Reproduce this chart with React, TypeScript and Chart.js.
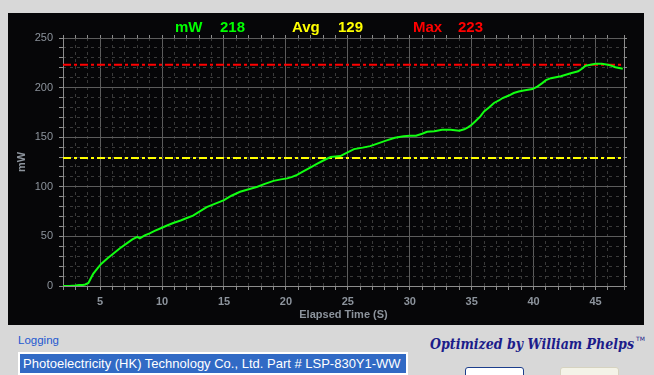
import { useEffect, useRef } from 'react';
import { Chart, registerables } from 'chart.js';

Chart.register(...registerables);

// ---- data ----
const timeS = [
  2.0, 2.5, 3.0, 3.3, 3.6, 3.8, 4.05, 4.3, 4.45, 4.8, 5.1, 5.6, 6.1, 6.6, 7.15, 7.6, 8.0, 8.2, 8.6, 9.0,
  9.4, 9.85, 10.4, 10.9, 11.5, 12.0, 12.5, 12.95, 13.6, 14.3, 15.0, 15.6, 16.3, 17.0, 17.7, 18.3, 19.0,
  19.6, 20.1, 20.5, 20.9, 21.4, 22.0, 22.5, 23.1, 23.6, 24.0, 24.4, 24.7, 25.1, 25.5, 26.2, 26.8, 27.5,
  28.2, 28.8, 29.5, 30.0, 30.5, 31.0, 31.4, 32.0, 32.6, 33.3, 34.0, 34.4, 34.7, 35.0, 35.3, 35.7, 36.0,
  36.4, 36.8, 37.2, 37.5, 38.0, 38.4, 38.8, 39.2, 39.9, 40.3, 40.7, 41.0, 41.4, 41.8, 42.2, 42.6, 43.0,
  43.6, 43.9, 44.2, 44.6, 45.0, 45.5, 46.0, 46.3, 46.6, 47.0, 47.2,
];
const powerMW = [
  0, 0, 0.5, 1, 1, 1.5, 3, 9, 12.5, 18, 22.5, 28, 33, 38, 43, 47, 49.5, 48, 51, 53,
  55.5, 58, 61, 63.5, 66, 68.5, 71, 74.5, 79.5, 83, 86.5, 91, 95, 97.5, 100, 103, 106,
  107.5, 108.5, 110, 112, 115.5, 119.5, 123, 127, 130, 130.5, 131, 133, 135.5, 138, 139.5, 141, 144,
  147, 149.5, 151, 151.5, 151.5, 153.5, 155.5, 156, 157.5, 157.5, 156.5, 158, 160, 162.5, 166, 171, 176,
  180, 184.5, 187, 189.5, 192, 194.5, 196, 197, 198.5, 201, 204.5, 207.5, 209.5, 210.5, 211.5, 213, 214.5,
  216.5, 219, 222, 223, 224, 224, 223, 222, 220.5, 219.5, 219,
];
const currentMW = 218;
const avgMW = 129;
const maxMW = 223;
const xRange = [2, 47.3];
const yRange = [0, 250];
const xLabelStep = 5;
const yLabelStep = 50;
const minorStepX = 1;
const minorStepY = 10;

const MAJOR = '#5c5c5c';
const MINOR = '#3a3a3a';
const AXIS = '#8c8c8c';
const TEXT = '#8c939c';
const FONT = '"Liberation Sans", Arial, sans-serif';

const titlePlugin = {
  id: 'meterTitle',
  afterDraw(chart: any) {
    const ctx = chart.ctx;
    const items: [string, string, number][] = [
      ['mW', '#00ff00', 167],
      [String(currentMW), '#00ff00', 212],
      ['Avg', '#ffff00', 284],
      [String(avgMW), '#ffff00', 330],
      ['Max', '#ff0000', 405],
      [String(maxMW), '#ff0000', 450],
    ];
    ctx.save();
    ctx.font = `bold 15px ${FONT}`;
    ctx.textBaseline = 'alphabetic';
    ctx.textAlign = 'left';
    for (const [t, c, x] of items) {
      ctx.fillStyle = c;
      ctx.fillText(t, x, 19);
    }
    ctx.restore();
  },
};

export default function App() {
  const ref = useRef<HTMLCanvasElement>(null);
  useEffect(() => {
    document.body.style.margin = '0';
    const chart = new Chart(ref.current as HTMLCanvasElement, {
      type: 'line',
      data: {
        datasets: [
          {
            label: 'mW',
            data: timeS.map((t, i) => ({ x: t, y: powerMW[i] })),
            borderColor: '#11ff11',
            borderWidth: 2,
            pointRadius: 0,
            tension: 0,
            order: 0,
          },
          {
            label: 'Max',
            data: [{ x: xRange[0], y: maxMW }, { x: xRange[1], y: maxMW }],
            borderColor: '#ff0000',
            borderWidth: 2,
            borderDash: [8, 3, 3, 3],
            pointRadius: 0,
            order: 1,
          },
          {
            label: 'Avg',
            data: [{ x: xRange[0], y: avgMW }, { x: xRange[1], y: avgMW }],
            borderColor: '#ffff00',
            borderWidth: 2,
            borderDash: [8, 3, 3, 3],
            pointRadius: 0,
            order: 1,
          },
        ],
      },
      options: {
        responsive: false,
        animation: false,
        layout: { padding: 0 },
        plugins: { legend: { display: false }, tooltip: { enabled: false }, title: { display: false } },
        scales: {
          x: {
            type: 'linear',
            position: 'bottom',
            min: xRange[0],
            max: xRange[1],
            ticks: {
              stepSize: minorStepX,
              autoSkip: false,
              maxRotation: 0,
              color: TEXT,
              padding: 5,
              font: { family: FONT, size: 11, weight: 'bold' },
              callback: (v: any) => (Number(v) % xLabelStep === 0 ? String(v) : ''),
            },
            grid: {
              color: (c: any) => (c.tick && c.tick.value % xLabelStep === 0 ? MAJOR : 'transparent'),
              tickColor: AXIS,
              tickLength: 4,
            },
            border: { display: true, color: AXIS, width: 1 },
            title: {
              display: true,
              text: 'Elapsed Time (S)',
              color: TEXT,
              font: { family: FONT, size: 11, weight: 'bold' },
              padding: { top: 0, bottom: 3 },
            },
            afterFit: (s: any) => { s.height = 39; },
          },
          xMinor: {
            type: 'linear',
            position: 'top',
            min: xRange[0],
            max: xRange[1],
            ticks: { stepSize: minorStepX, display: false, autoSkip: false },
            grid: {
              color: (c: any) => (c.tick && c.tick.value % xLabelStep === 0 ? 'transparent' : MINOR),
              tickColor: AXIS,
              tickLength: 3,
            },
            border: { display: false, dash: [3, 4] },
            afterFit: (s: any) => { s.height = 25; },
          },
          y: {
            type: 'linear',
            position: 'left',
            min: yRange[0],
            max: yRange[1],
            ticks: {
              stepSize: minorStepY,
              autoSkip: false,
              color: TEXT,
              padding: 6,
              font: { family: FONT, size: 11 },
              callback: (v: any) => (Number(v) % yLabelStep === 0 ? String(v) : ''),
            },
            grid: {
              color: (c: any) => (c.tick && c.tick.value % yLabelStep === 0 ? MAJOR : 'transparent'),
              tickColor: AXIS,
              tickLength: 4,
            },
            border: { display: true, color: AXIS, width: 1 },
            title: {
              display: true,
              text: 'mW',
              color: TEXT,
              font: { family: FONT, size: 11, weight: 'bold' },
              padding: { top: 7, bottom: 0 },
            },
            afterFit: (s: any) => { s.width = 55; },
          },
          yMinor: {
            type: 'linear',
            position: 'right',
            min: yRange[0],
            max: yRange[1],
            ticks: { stepSize: minorStepY, display: false, autoSkip: false },
            grid: {
              color: (c: any) => (c.tick && c.tick.value % yLabelStep === 0 ? 'transparent' : MINOR),
              tickColor: AXIS,
              tickLength: 3,
            },
            border: { display: true, color: AXIS, width: 1, dash: [3, 4] },
            afterFit: (s: any) => { s.width = 20; },
          },
        },
      },
      plugins: [titlePlugin],
    } as any);
    return () => chart.destroy();
  }, []);

  return (
    <div
      style={{
        position: 'relative',
        width: 654,
        height: 375,
        background: '#d8d8d8',
        overflow: 'hidden',
        fontFamily: FONT,
      }}
    >
      <div style={{ position: 'absolute', left: 8, top: 13, width: 636, height: 312, background: '#060608' }}>
        <canvas ref={ref} width={636} height={312} style={{ display: 'block' }} />
      </div>
      <div style={{ position: 'absolute', left: 18, top: 334, color: '#2458d0', fontSize: 11.5 }}>Logging</div>
      <div
        style={{
          position: 'absolute',
          left: 18,
          top: 352,
          width: 383,
          height: 19,
          border: '2px solid #ffffff',
          background: '#316ac5',
          color: '#ffffff',
          fontSize: 13,
          lineHeight: '19px',
          paddingLeft: 3,
          whiteSpace: 'nowrap',
          overflow: 'hidden',
          boxSizing: 'content-box',
        }}
      >
        Photoelectricity (HK) Technology Co., Ltd. Part # LSP-830Y1-WW
      </div>
      <svg style={{ position: 'absolute', left: 430, top: 334, overflow: 'visible' }} width={214} height={20}>
        <text
          x={0}
          y={15}
          textLength={204}
          lengthAdjust="spacingAndGlyphs"
          fill="#1c1c8a"
          style={{ font: 'italic bold 15px "DejaVu Serif", serif' }}
        >
          Optimized by William Phelps
        </text>
        <text x={206} y={7} fill="#1c1c8a" style={{ font: '6px "DejaVu Sans", sans-serif' }}>TM</text>
      </svg>
      <div
        style={{
          position: 'absolute',
          left: 465,
          top: 367,
          width: 57,
          height: 20,
          background: '#ffffff',
          border: '1px solid #1c3e8c',
          borderRadius: 3,
        }}
      />
      <div
        style={{
          position: 'absolute',
          left: 560,
          top: 367,
          width: 57,
          height: 20,
          background: '#f4f3e8',
          border: '1px solid #d6d3c0',
          borderRadius: 3,
        }}
      />
    </div>
  );
}
